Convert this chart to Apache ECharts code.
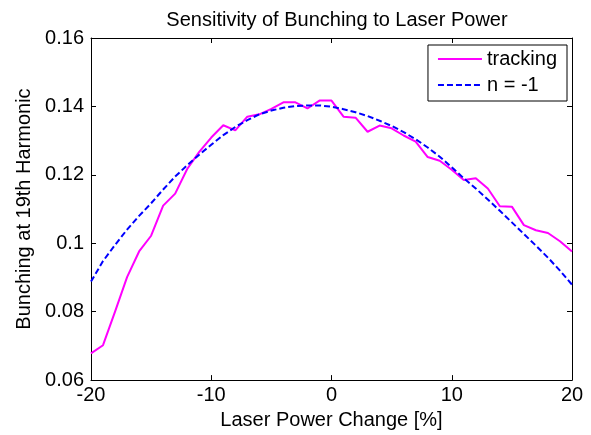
<!DOCTYPE html>
<html>
<head>
<meta charset="utf-8">
<script src="https://cdn.jsdelivr.net/npm/echarts@6/dist/echarts.min.js"></script>
<style>
  html, body { margin: 0; padding: 0; background: #fff; }
  #chart { width: 591px; height: 435px; }
</style>
</head>
<body>
<div id="chart"></div>
<script>
// laser power change [%]
var powerChange = [-20, -19, -18, -17, -16, -15, -14, -13, -12, -11, -10, -9, -8, -7, -6, -5, -4, -3, -2, -1,
  0, 1, 2, 3, 4, 5, 6, 7, 8, 9, 10, 11, 12, 13, 14, 15, 16, 17, 18, 19, 20];

var tracking = [0.0678, 0.0702, 0.0800, 0.0901, 0.0976, 0.1022, 0.1110, 0.1145, 0.1217, 0.1267,
  0.1309, 0.1345, 0.1330, 0.1370, 0.1377, 0.1393, 0.1412, 0.1412, 0.1394, 0.1417,
  0.1417, 0.1370, 0.1367, 0.1326, 0.1344, 0.1336, 0.1315, 0.1297, 0.1252, 0.1241,
  0.1215, 0.1185, 0.1190, 0.1160, 0.1108, 0.1107, 0.1053, 0.1038, 0.1030, 0.1006, 0.0976];

var nMinus1 = [0.0888, 0.0948, 0.0995, 0.1040, 0.1080, 0.1117, 0.1157, 0.1195, 0.1228, 0.1259,
  0.1288, 0.1316, 0.1340, 0.1360, 0.1377, 0.1388, 0.1396, 0.1401, 0.1403, 0.1403,
  0.1399, 0.1392, 0.1383, 0.1372, 0.1358, 0.1343, 0.1325, 0.1304, 0.1280, 0.1253,
  0.1222, 0.1190, 0.1160, 0.1128, 0.1095, 0.1061, 0.1027, 0.0993, 0.0958, 0.0920, 0.0879];

var xTicks = [-20, -10, 0, 10, 20];
var yTicks = [0.06, 0.08, 0.1, 0.12, 0.14, 0.16];

var font = "'Liberation Sans', Arial, sans-serif";

function pairs(xs, ys) {
  return xs.map(function (x, i) { return [x, ys[i]]; });
}

var chart = echarts.init(document.getElementById('chart'));

var boxLine = { show: true, onZero: false, lineStyle: { color: '#000', width: 1 } };
var inTick = { show: true, inside: true, length: 5, lineStyle: { color: '#000', width: 1 } };

chart.setOption({
  animation: false,
  backgroundColor: '#fff',
  title: {
    text: 'Sensitivity of Bunching to Laser Power',
    left: 332,
    textAlign: 'center',
    top: 5,
    textStyle: { fontFamily: font, fontSize: 20, fontWeight: 'normal', color: '#000' }
  },
  legend: {
    orient: 'vertical',
    right: 24,
    top: 45,
    padding: [4, 10, 6, 9],
    itemWidth: 44,
    itemHeight: 2,
    itemGap: 6,
    itemStyle: { opacity: 0 },
    borderColor: '#000',
    borderWidth: 1,
    backgroundColor: '#fff',
    textStyle: { fontFamily: font, fontSize: 20, color: '#000', lineHeight: 20 },
    data: ['tracking', 'n = -1']
  },
  grid: { left: 91, right: 19, top: 38, bottom: 53 },
  xAxis: [{
    type: 'value',
    min: xTicks[0],
    max: xTicks[xTicks.length - 1],
    interval: 10,
    name: 'Laser Power Change [%]',
    nameLocation: 'middle',
    nameGap: 27,
    nameTextStyle: { fontFamily: font, fontSize: 20, color: '#000' },
    axisLine: boxLine,
    axisTick: inTick,
    axisLabel: { margin: 5, fontFamily: font, fontSize: 20, color: '#000' },
    splitLine: { show: false }
  }, {
    type: 'value',
    position: 'top',
    min: xTicks[0],
    max: xTicks[xTicks.length - 1],
    interval: 10,
    axisLine: boxLine,
    axisTick: inTick,
    axisLabel: { show: false },
    splitLine: { show: false }
  }],
  yAxis: [{
    type: 'value',
    min: yTicks[0],
    max: yTicks[yTicks.length - 1],
    interval: 0.02,
    name: 'Bunching at 19th Harmonic',
    nameLocation: 'middle',
    nameGap: 56,
    nameTextStyle: { fontFamily: font, fontSize: 20, color: '#000' },
    axisLine: boxLine,
    axisTick: inTick,
    axisLabel: { margin: 7, fontFamily: font, fontSize: 20, color: '#000' },
    splitLine: { show: false }
  }, {
    type: 'value',
    position: 'right',
    min: yTicks[0],
    max: yTicks[yTicks.length - 1],
    interval: 0.02,
    axisLine: boxLine,
    axisTick: inTick,
    axisLabel: { show: false },
    splitLine: { show: false }
  }],
  series: [{
    name: 'tracking',
    type: 'line',
    xAxisIndex: 0,
    yAxisIndex: 0,
    symbol: 'none',
    color: '#ff00ff',
    lineStyle: { color: '#ff00ff', width: 2 },
    data: pairs(powerChange, tracking)
  }, {
    name: 'n = -1',
    type: 'line',
    xAxisIndex: 0,
    yAxisIndex: 0,
    symbol: 'none',
    color: '#0000ff',
    lineStyle: { color: '#0000ff', width: 2, type: [6, 3] },
    data: pairs(powerChange, nMinus1)
  }]
});
</script>
</body>
</html>
